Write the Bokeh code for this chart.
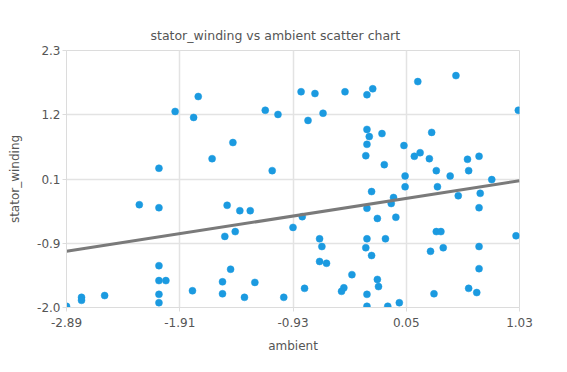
from bokeh.plotting import figure
from bokeh.models import FixedTicker, ColumnDataSource
from bokeh.embed import file_html
from bokeh.resources import INLINE

ambient = [-1.95, -1.79, -1.75, -1.63, -1.45, -2.09, -1.17, -1.06, -1.11, -0.86,
           -0.74, -0.48, -0.29, -0.24, 0.15, 0.48, 1.02, -0.80, -0.67, -0.29,
           -0.27, -0.16, -0.29, -0.30, -0.14, 0.03, 0.27, 0.12, 0.17, 0.25,
           0.58, 0.68, 0.31, 0.43, 0.59, 0.04, 0.79, -2.26, -2.09, -1.50,
           -1.39, -1.30, -1.52, -1.43, 0.04, 0.32, -0.25, -0.06, -0.08, 0.50,
           0.69, 0.68, -0.85, -0.20, -0.04, -0.93, 0.31, 0.35, 1.00, -0.70,
           -0.29, -0.13, -0.68, -0.30, 0.26, 0.37, 0.68, -0.29, -0.25, -2.09,
           -2.09, -2.03, -1.47, -1.54, -1.26, -1.80, -2.09, -1.54, -2.09, -2.56,
           -2.76, -1.35, -1.01, -2.89, -0.70, -0.64, 0.68, -0.42, -0.20, -0.19,
           -0.83, -0.49, -0.51, 0.59, 0.66, 0.29, -0.29, -0.29, -0.11, -0.01,
           -2.76]
stator_winding = [1.28, 1.18, 1.53, 0.49, 0.76, 0.33, 1.30, 1.23, 0.29, 1.61,
                  1.58, 1.61, 1.56, 1.66, 1.78, 1.88, 1.30, 1.13, 1.25, 0.98,
                  0.86, 0.91, 0.73, 0.54, 0.39, 0.71, 0.93, 0.53, 0.59, 0.49,
                  0.48, 0.53, 0.29, 0.20, 0.29, 0.20, 0.14, -0.28, -0.33, -0.29,
                  -0.38, -0.38, -0.81, -0.73, 0.02, 0.02, -0.06, -0.16, -0.26, -0.13,
                  -0.09, -0.33, -0.48, -0.51, -0.49, -0.66, -0.73, -0.73, -0.80, -0.85,
                  -0.85, -0.85, -0.98, -1.00, -1.06, -1.00, -0.98, -0.34, -1.13, -1.30,
                  -1.55, -1.55, -1.36, -1.57, -1.58, -1.72, -1.78, -1.77, -1.92, -1.80,
                  -1.83, -1.83, -1.83, -1.98, -1.23, -1.26, -1.35, -1.45, -1.53, -1.65,
                  -1.68, -1.67, -1.73, -1.68, -1.75, -1.77, -1.78, -1.98, -1.98, -1.92,
                  -1.88]

trend_x = [-2.89, 1.03]
trend_y = [-1.06, 0.12]

x_ticks = [-2.89, -1.91, -0.93, 0.05, 1.03]
x_tick_labels = ["-2.89", "-1.91", "-0.93", "0.05", "1.03"]
y_ticks = [-2.0, -0.925, 0.15, 1.225, 2.3]
y_tick_labels = ["-2.0", "-0.9", "0.1", "1.2", "2.3"]

FONT = "DejaVu Sans"
TXT = "#555555"
LIGHT = "#dcdcdc"

p = figure(width=551, height=356, output_backend="svg", toolbar_location=None,
           x_range=(-2.89, 1.03), y_range=(-2.0, 2.3),
           min_border_left=66, min_border_right=32, min_border_top=50, min_border_bottom=49,
           title="stator_winding vs ambient scatter chart")
p.title.text_font = FONT
p.title.text_font_size = "12.5px"
p.title.text_font_style = "normal"
p.title.text_color = TXT
p.title.align = "left"
p.title.offset = 84
p.title.standoff = 16

p.outline_line_color = LIGHT
p.background_fill_color = "white"
p.border_fill_color = "white"

for ax in (p.xaxis[0], p.yaxis[0]):
    ax.axis_line_color = LIGHT
    ax.major_tick_line_color = LIGHT
    ax.major_tick_in = 0
    ax.major_tick_out = 4
    ax.minor_tick_line_color = None
    ax.major_label_text_font = FONT
    ax.major_label_text_font_size = "12px"
    ax.major_label_text_color = TXT
    ax.axis_label_text_font = FONT
    ax.axis_label_text_font_size = "12px"
    ax.axis_label_text_font_style = "normal"
    ax.axis_label_text_color = TXT

p.xaxis.ticker = FixedTicker(ticks=x_ticks)
p.xaxis.major_label_overrides = dict(zip(x_ticks, x_tick_labels))
p.yaxis.ticker = FixedTicker(ticks=y_ticks)
p.yaxis.major_label_overrides = dict(zip(y_ticks, y_tick_labels))
p.xaxis.axis_label = "ambient"
p.yaxis.axis_label = "stator_winding"
p.xaxis.major_label_standoff = 6
p.xaxis.axis_label_standoff = 9
p.yaxis.major_label_standoff = 2
p.yaxis.axis_label_standoff = 12

p.xgrid.grid_line_color = "#e3e3e3"
p.ygrid.grid_line_color = "#e3e3e3"
p.xgrid.grid_line_width = 1.5
p.ygrid.grid_line_width = 1.5

src = ColumnDataSource(dict(x=ambient, y=stator_winding))
p.scatter("x", "y", source=src, size=7, fill_color="#1b9ae0", line_color="#1b9ae0", line_width=0.5)
p.line(trend_x, trend_y, line_color="#7a7a7a", line_width=3)

open("out.html", "w").write(file_html(p, INLINE))
